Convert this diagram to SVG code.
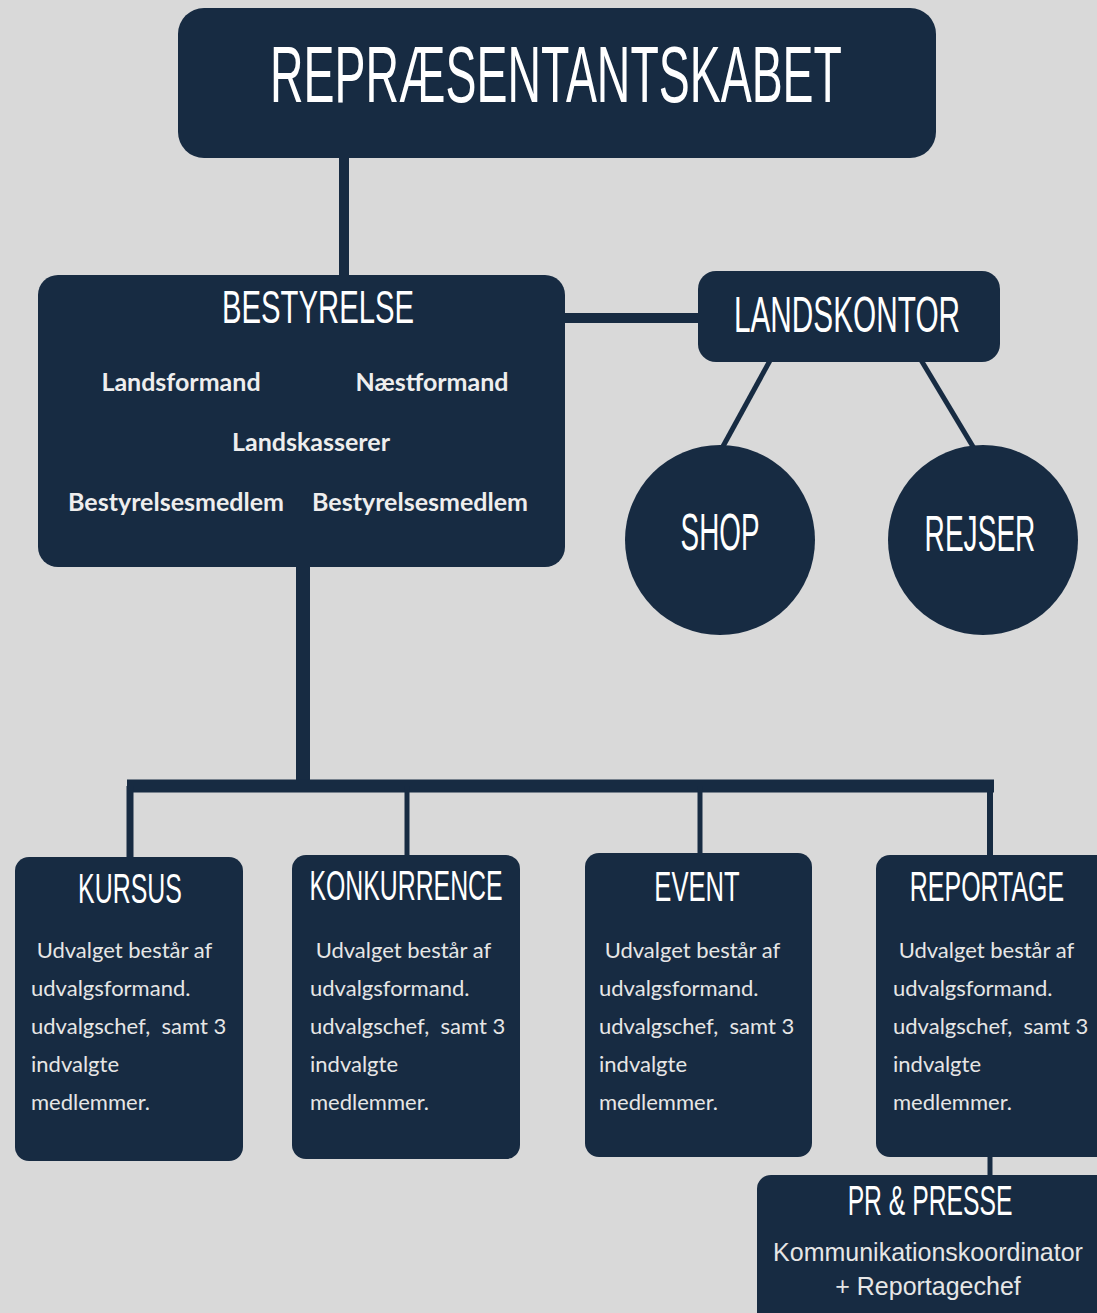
<svg xmlns="http://www.w3.org/2000/svg" width="1097" height="1313" viewBox="0 0 1097 1313">
<style>
.node{fill:#172b42}
.title{font-family:"Liberation Sans",Arial,sans-serif;fill:#ffffff;text-anchor:middle}
.lbl{font-family:Lato,"Open Sans",sans-serif;font-weight:bold;font-size:25px;fill:#eeeeee;text-anchor:middle}
.body{font-family:Lato,"Open Sans",sans-serif;font-size:22px;fill:#e6e6e6}
.pr{font-family:"Liberation Sans",Arial,sans-serif;font-size:25px;fill:#e6e6e6;text-anchor:middle}
.con{stroke:#172b42;fill:none}
</style>
<rect width="1097" height="1313" fill="#d9d9d9"/>
<g id="connectors">
<line class="con" x1="344" y1="150" x2="344" y2="280" stroke-width="10"/>
<line class="con" x1="560" y1="318" x2="705" y2="318" stroke-width="10"/>
<line class="con" x1="773" y1="355" x2="721" y2="450" stroke-width="5"/>
<line class="con" x1="918" y1="355" x2="975" y2="450" stroke-width="5"/>
<line class="con" x1="303" y1="560" x2="303" y2="787" stroke-width="14"/>
<line class="con" x1="127" y1="786" x2="994" y2="786" stroke-width="13"/>
<line class="con" x1="130" y1="786" x2="130" y2="862" stroke-width="7"/>
<line class="con" x1="407" y1="786" x2="407" y2="860" stroke-width="5"/>
<line class="con" x1="700" y1="786" x2="700" y2="858" stroke-width="5"/>
<line class="con" x1="990" y1="786" x2="990" y2="860" stroke-width="6"/>
<line class="con" x1="990" y1="1150" x2="990" y2="1180" stroke-width="5"/>
</g>
<g id="representantskabet">
<rect class="node" x="178" y="8" width="758" height="150" rx="26"/>
<text class="title" transform="translate(556,102) scale(0.58,1)" font-size="80" textLength="986" lengthAdjust="spacingAndGlyphs">REPRÆSENTANTSKABET</text>
</g>
<g id="bestyrelse">
<rect class="node" x="38" y="275" width="527" height="292" rx="20"/>
<text class="title" transform="translate(318,323) scale(0.58,1)" font-size="46" textLength="331" lengthAdjust="spacingAndGlyphs">BESTYRELSE</text>
<text class="lbl" x="181" y="391">Landsformand</text>
<text class="lbl" x="432" y="391">Næstformand</text>
<text class="lbl" x="311" y="451">Landskasserer</text>
<text class="lbl" x="176" y="511">Bestyrelsesmedlem</text>
<text class="lbl" x="420" y="511">Bestyrelsesmedlem</text>
</g>
<g id="landskontor">
<rect class="node" x="698" y="271" width="302" height="91" rx="18"/>
<text class="title" transform="translate(847,332) scale(0.58,1)" font-size="50" textLength="390" lengthAdjust="spacingAndGlyphs">LANDSKONTOR</text>
</g>
<g id="shop">
<circle class="node" cx="720" cy="540" r="95"/>
<text class="title" transform="translate(720,550) scale(0.58,1)" font-size="52" textLength="136" lengthAdjust="spacingAndGlyphs">SHOP</text>
</g>
<g id="rejser">
<circle class="node" cx="983" cy="540" r="95"/>
<text class="title" transform="translate(980,551) scale(0.58,1)" font-size="50" textLength="191" lengthAdjust="spacingAndGlyphs">REJSER</text>
</g>
<g id="kursus">
<rect class="node" x="15" y="857" width="228" height="304" rx="14"/>
<text class="title" transform="translate(130,903) scale(0.58,1)" font-size="43" textLength="179" lengthAdjust="spacingAndGlyphs">KURSUS</text>
<text class="body" x="31" y="958" xml:space="preserve"> Udvalget består af</text>
<text class="body" x="31" y="996">udvalgsformand.</text>
<text class="body" x="31" y="1034" xml:space="preserve">udvalgschef,  samt 3</text>
<text class="body" x="31" y="1072">indvalgte</text>
<text class="body" x="31" y="1110">medlemmer.</text>
</g>
<g id="konkurrence">
<rect class="node" x="292" y="855" width="228" height="304" rx="14"/>
<text class="title" transform="translate(406,900) scale(0.58,1)" font-size="43" textLength="333" lengthAdjust="spacingAndGlyphs">KONKURRENCE</text>
<text class="body" x="310" y="958" xml:space="preserve"> Udvalget består af</text>
<text class="body" x="310" y="996">udvalgsformand.</text>
<text class="body" x="310" y="1034" xml:space="preserve">udvalgschef,  samt 3</text>
<text class="body" x="310" y="1072">indvalgte</text>
<text class="body" x="310" y="1110">medlemmer.</text>
</g>
<g id="event">
<rect class="node" x="585" y="853" width="227" height="304" rx="14"/>
<text class="title" transform="translate(697,901) scale(0.58,1)" font-size="43" textLength="147" lengthAdjust="spacingAndGlyphs">EVENT</text>
<text class="body" x="599" y="958" xml:space="preserve"> Udvalget består af</text>
<text class="body" x="599" y="996">udvalgsformand.</text>
<text class="body" x="599" y="1034" xml:space="preserve">udvalgschef,  samt 3</text>
<text class="body" x="599" y="1072">indvalgte</text>
<text class="body" x="599" y="1110">medlemmer.</text>
</g>
<g id="reportage">
<rect class="node" x="876" y="855" width="235" height="302" rx="14"/>
<text class="title" transform="translate(987,901) scale(0.58,1)" font-size="43" textLength="266" lengthAdjust="spacingAndGlyphs">REPORTAGE</text>
<text class="body" x="893" y="958" xml:space="preserve"> Udvalget består af</text>
<text class="body" x="893" y="996">udvalgsformand.</text>
<text class="body" x="893" y="1034" xml:space="preserve">udvalgschef,  samt 3</text>
<text class="body" x="893" y="1072">indvalgte</text>
<text class="body" x="893" y="1110">medlemmer.</text>
</g>
<g id="pr-presse">
<rect class="node" x="757" y="1175" width="355" height="160" rx="14"/>
<text class="title" transform="translate(930,1215) scale(0.58,1)" font-size="42" textLength="284" lengthAdjust="spacingAndGlyphs">PR &amp; PRESSE</text>
<text class="pr" x="928" y="1261">Kommunikationskoordinator</text>
<text class="pr" x="928" y="1295">+ Reportagechef</text>
</g>
</svg>
